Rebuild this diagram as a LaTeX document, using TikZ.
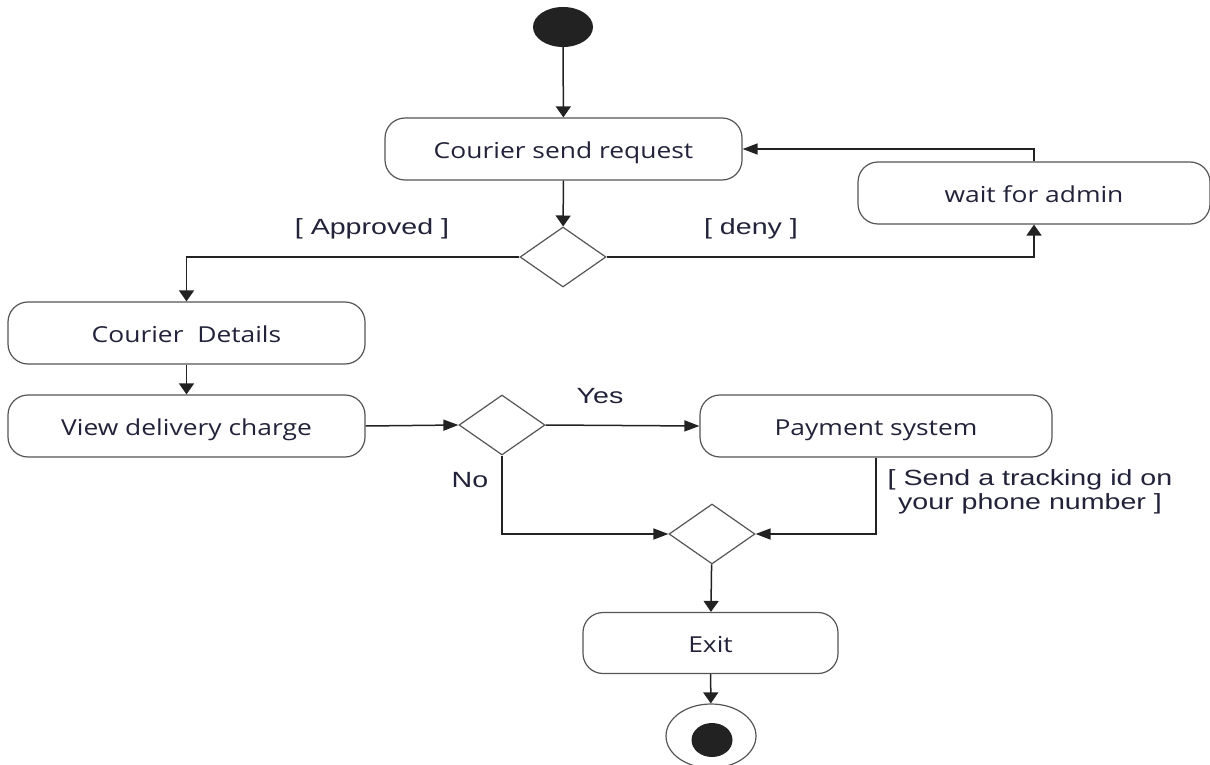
\documentclass[tikz,border=0pt]{standalone}
\usepackage{fontspec}
\usetikzlibrary{arrows.meta,shapes.geometric}
\newfontfamily\boxfont[FakeStretch=1.2]{Open Sans}
\newfontfamily\lblfont[FakeStretch=1.3]{Liberation Sans}
\definecolor{linec}{HTML}{222222}
\definecolor{borderc}{HTML}{555555}
\definecolor{textc}{HTML}{22223A}
\begin{document}
\begin{tikzpicture}[x=1pt,y=-1pt,
  actbox/.style={draw=borderc, line width=1.2pt, rounded corners=20pt, fill=white,
     minimum height=62pt, inner sep=0pt, text height=18pt, text depth=0pt, text=textc, font=\boxfont\fontsize{22}{26}\selectfont},
  decision/.style={draw=borderc, line width=1.2pt, diamond, minimum width=86pt, minimum height=60pt, inner sep=0pt},
  lbl/.style={text=textc, font=\lblfont\fontsize{22}{24}\selectfont, inner sep=0pt, align=center},
  conn/.style={draw=linec, line width=1.5pt},
  varr/.style={conn, -{Triangle[length=11pt,width=15pt]}},
  harr/.style={conn, -{Triangle[length=15pt,width=11pt]}}
]
\useasboundingbox (0,0) rectangle (1210,765);
% nodes
\node[ellipse, fill=linec, minimum width=60pt, minimum height=40pt, inner sep=0pt] (start) at (563,27) {};
\node[actbox, minimum width=357pt] (req) at (563.5,149) {Courier send request};
\node[actbox, minimum width=352pt] (wait) at (1034,193) {wait for admin};
\node[decision] (d1) at (563,257) {};
\node[actbox, minimum width=357pt] (det) at (186.5,333) {Courier\ \ Details};
\node[actbox, minimum width=357pt] (view) at (186.5,426) {View delivery charge};
\node[decision] (d2) at (502,425) {};
\node[actbox, minimum width=352pt] (pay) at (876,426) {Payment system};
\node[decision] (d3) at (712,534) {};
\node[actbox, minimum width=255pt, minimum height=61pt] (exit) at (710.5,643) {Exit};
\node[ellipse, draw=borderc, line width=1.2pt, minimum width=90pt, minimum height=64pt, inner sep=0pt] (final) at (711,736) {};
\node[ellipse, fill=linec, minimum width=41pt, minimum height=34pt, inner sep=0pt] (finaldot) at (712,740) {};
% labels
\node[lbl] (lapp) at (372,229) {[ Approved ]};
\node[lbl] (ldeny) at (751,229) {[ deny ]};
\node[lbl] (lyes) at (600,396) {Yes};
\node[lbl] (lno) at (470,480) {No};
\node[lbl, font=\lblfont\fontsize{22}{23.5}\selectfont] (lsend) at (1030,492) {[ Send a tracking id on\\ your phone number ]};
% connectors
\draw[varr] (start) -- (req);
\draw[varr] (req) -- (d1);
\draw[varr] (d1.west) -| (det.north);
\draw[varr] (d1.east) -| (wait.south);
\draw[harr] (wait.north) |- (req.east);
\draw[varr] (det) -- (view);
\draw[harr] (view.east) -- (d2.west);
\draw[harr] (d2.east) -- (pay.west);
\draw[harr] (d2.south) |- (d3.west);
\draw[harr] (pay.south) |- (d3.east);
\draw[varr] (d3) -- (exit);
\draw[varr] (exit) -- (final);
\end{tikzpicture}
\end{document}
